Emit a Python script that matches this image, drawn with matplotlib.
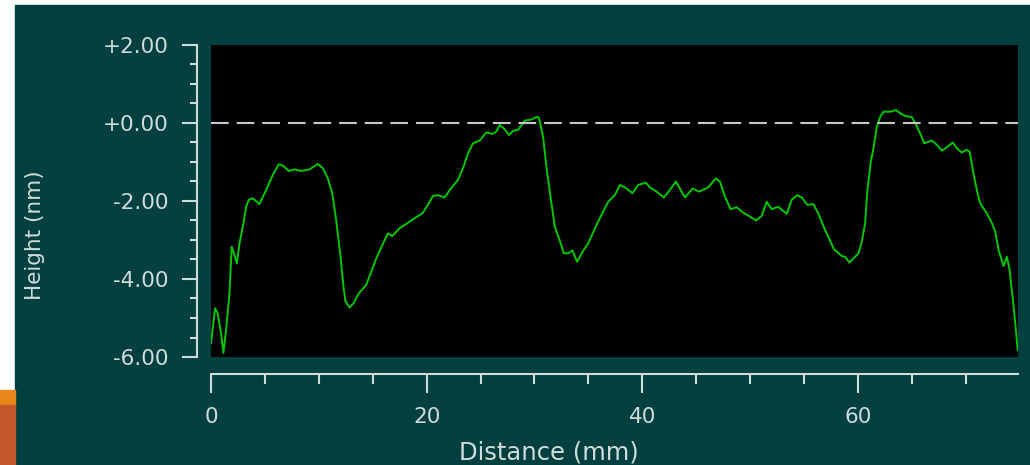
import matplotlib
matplotlib.use("Agg")
import matplotlib.pyplot as plt
from matplotlib.patches import Rectangle
from matplotlib.ticker import MultipleLocator, FixedLocator, FixedFormatter

# profile trace: distance (mm), height (nm)
distance = [0.0, 0.38, 0.62, 0.93, 1.15, 1.4, 1.71, 1.92, 2.17, 2.39, 2.64, 2.95,
            3.26, 3.5, 3.87, 4.49, 5.11, 5.73, 6.29, 6.66, 7.22, 7.74, 8.36, 9.14,
            9.91, 10.37, 10.84, 11.24, 11.61, 11.98, 12.29, 12.48, 12.85, 13.22,
            13.71, 14.4, 14.87, 15.33, 15.89, 16.41, 16.81, 17.49, 18.26, 18.89,
            19.6, 20.12, 20.59, 21.05, 21.67, 22.14, 22.91, 23.37, 23.84, 24.3,
            24.92, 25.54, 26.1, 26.47, 26.78, 27.24, 27.64, 28.01, 28.48, 29.1,
            29.72, 30.28, 30.43, 30.8, 31.11, 31.49, 31.89, 32.28, 32.72, 33.12,
            33.53, 33.96, 34.46, 34.98, 35.75, 36.37, 36.84, 37.46, 37.92, 38.39,
            39.1, 39.62, 40.33, 40.71, 41.33, 42.01, 42.56, 43.12, 43.96, 44.67,
            45.28, 46.12, 46.83, 47.2, 47.67, 48.2, 48.76, 49.37, 49.99, 50.55,
            51.08, 51.54, 52.0, 52.62, 53.4, 53.86, 54.38, 54.79, 55.31, 55.87,
            56.33, 56.95, 57.79, 58.5, 58.81, 59.21, 60.05, 60.36, 60.67, 60.88,
            61.2, 61.44, 61.76, 62.07, 62.37, 62.99, 63.55, 63.92, 64.39, 65.01,
            65.47, 65.78, 66.15, 66.86, 67.33, 67.79, 68.26, 68.81, 69.18, 69.65,
            70.05, 70.36, 70.72, 71.03, 71.34, 71.97, 72.43, 72.74, 73.05, 73.51,
            73.82, 74.07, 74.38, 74.6, 74.82]
height = [-5.65, -4.75, -4.88, -5.39, -5.9, -5.31, -4.37, -3.17, -3.38, -3.6, -3.09, -2.66,
          -2.15, -1.97, -1.93, -2.08, -1.72, -1.33, -1.06, -1.09, -1.23, -1.19, -1.23, -1.19,
          -1.05, -1.16, -1.42, -1.8, -2.49, -3.34, -4.2, -4.58, -4.73, -4.62,
          -4.37, -4.15, -3.81, -3.47, -3.13, -2.83, -2.9, -2.7, -2.56, -2.44,
          -2.32, -2.1, -1.87, -1.85, -1.91, -1.72, -1.46, -1.16, -0.78, -0.52,
          -0.45, -0.24, -0.28, -0.22, -0.05, -0.16, -0.31, -0.2, -0.18, 0.06,
          0.09, 0.16, 0.12, -0.35, -1.12, -1.89, -2.66, -2.96, -3.34, -3.34,
          -3.27, -3.56, -3.3, -3.09, -2.62, -2.27, -2.02, -1.85, -1.59, -1.65,
          -1.8, -1.59, -1.53, -1.65, -1.76, -1.91, -1.72, -1.5, -1.91, -1.68,
          -1.76, -1.65, -1.42, -1.5, -1.89, -2.21, -2.16, -2.3, -2.4, -2.5,
          -2.38, -2.02, -2.21, -2.15, -2.33, -1.97, -1.85, -1.91, -2.1, -2.08,
          -2.32, -2.74, -3.24, -3.41, -3.43, -3.58, -3.34, -3.04, -2.57, -1.72,
          -0.99, -0.65, -0.09, 0.16, 0.29, 0.29, 0.33, 0.25, 0.18, 0.15,
          -0.08, -0.27, -0.52, -0.45, -0.56, -0.71, -0.62, -0.5, -0.65, -0.76,
          -0.69, -0.73, -1.29, -1.72, -2.06, -2.32, -2.57, -2.79, -3.26, -3.67,
          -3.43, -3.77, -4.54, -5.14, -5.82]

yticks = [2, 0, -2, -4, -6]
ytick_labels = ["+2.00", "+0.00", "-2.00", "-4.00", "-6.00"]
xticks = [0, 20, 40, 60]
xtick_labels = ["0", "20", "40", "60"]

teal = "#02403f"
pale = "#d0dcdc"

fig = plt.figure(figsize=(10.3, 4.65), dpi=100, facecolor="white")

# slide background and the coloured blocks at the lower left
fig.patches.append(Rectangle((15 / 1030, 0), 1 - 15 / 1030, 1 - 5 / 465,
                             transform=fig.transFigure, color=teal, zorder=-10))
fig.patches.append(Rectangle((0, 60 / 465), 15 / 1030, 15 / 465,
                             transform=fig.transFigure, color="#e8861a", zorder=-10))
fig.patches.append(Rectangle((0, 0), 15 / 1030, 60 / 465,
                             transform=fig.transFigure, color="#c4572a", zorder=-10))

ax = fig.add_axes([211 / 1030, 108 / 465, 807 / 1030, 312 / 465])
ax.set_facecolor("black")

ax.plot(distance, height, color="#00c800", lw=1.4)
ax.axhline(0, color="#c8c8c8", lw=1.5, linestyle=(0, (8.5, 3.8)))

ax.set_xlim(0, 74.85)
ax.set_ylim(-6, 2)

for side in ("top", "right"):
    ax.spines[side].set_visible(False)
ax.spines["left"].set_position(("outward", 10))
ax.spines["bottom"].set_position(("outward", 12.2))
for side in ("left", "bottom"):
    ax.spines[side].set_color(pale)
    ax.spines[side].set_linewidth(1.5)

ax.yaxis.set_major_locator(FixedLocator(yticks))
ax.yaxis.set_major_formatter(FixedFormatter(ytick_labels))
ax.yaxis.set_minor_locator(MultipleLocator(0.5))
ax.xaxis.set_major_locator(FixedLocator(xticks))
ax.xaxis.set_major_formatter(FixedFormatter(xtick_labels))
ax.xaxis.set_minor_locator(MultipleLocator(5))

ax.tick_params(axis="y", which="major", length=10.8, width=1.5, pad=10,
               colors=pale, labelsize=15.5)
ax.tick_params(axis="y", which="minor", length=5, width=1.5, colors=pale)
ax.tick_params(axis="x", which="major", length=13.7, width=1.5, pad=10,
               colors=pale, labelsize=15.5)
ax.tick_params(axis="x", which="minor", length=7.2, width=1.5, colors=pale)

fig.text(35 / 1030, 1 - 235 / 465, "Height (nm)", rotation=90, ha="center",
         va="center", color=pale, fontsize=15.5)
fig.text(549 / 1030, 1 - 452 / 465, "Distance (mm)", ha="center",
         va="center", color=pale, fontsize=17.5)

fig.savefig("out.png", dpi=100, facecolor=fig.get_facecolor())
